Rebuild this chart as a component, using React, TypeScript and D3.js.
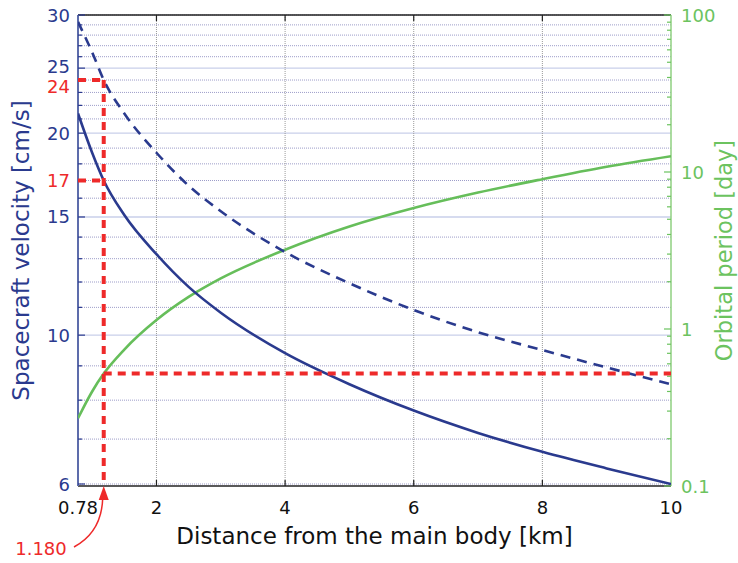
import React from "react";
import * as d3 from "d3";

// Distance from the main body [km]
const distanceKm = [0.78, 1.0, 1.18, 1.5, 2, 2.5, 3, 4, 5, 6, 7, 8, 9, 10];
// Circular orbit velocity [cm/s]
const orbitVelocity = [21.4, 18.7, 17, 15.1, 13.2, 11.8, 10.8, 9.4, 8.45, 7.72, 7.15, 6.7, 6.33, 6.0];
// Escape velocity [cm/s]
const escapeVelocity = [29.3, 26.4, 24, 21.4, 18.7, 16.7, 15.3, 13.3, 11.95, 10.9, 10.1, 9.5, 8.95, 8.45];
// Orbital period [day]
const orbitalPeriod = [0.27, 0.4, 0.52, 0.74, 1.14, 1.6, 2.1, 3.2, 4.5, 5.9, 7.4, 9.0, 10.8, 12.6];

const xTicks = [0.78, 2, 4, 6, 8, 10];
const xTickLabels = ["0.78", "2", "4", "6", "8", "10"];
const leftLabels = [6, 10, 15, 20, 25, 30];
const leftMajorGrid = [10, 15, 20, 25];
const rightLabels = [0.1, 1, 10, 100];
const rightLabelText = ["0.1", "1", "10", "100"];

// Marked operating point
const markDistance = 1.18;
const markDistanceLabel = "1.180";
const markEscape = 24;
const markOrbit = 17;
const markPeriod = 0.52;

const W = 738;
const H = 563;
const L = 78;
const R = 671;
const T = 15;
const B = 486;

const NAVY = "#2a3a8e";
const GREEN = "#66be5a";
const GREEN_TXT = "#6cc35f";
const RED = "#ee2a2a";
const FONT = "DejaVu Sans, Verdana, sans-serif";

export default function App() {
  const x = d3.scaleLinear().domain([0.78, 10]).range([L, R]);
  const yL = d3.scaleLog().domain([6, 30]).range([484, T]);
  const yR = d3.scaleLog().domain([0.1, 100]).range([B, T]);

  const leftMinor = d3.range(6, 31);
  const rightMinor: number[] = [];
  [0.1, 1, 10].forEach((d) => {
    for (let k = 2; k <= 9; k++) rightMinor.push(d * k);
  });

  const lineL = (vals: number[]) =>
    d3
      .line<number>()
      .x((_, i) => x(distanceKm[i]))
      .y((v) => yL(v))
      .curve(d3.curveMonotoneX)(vals) || "";
  const lineR = d3
    .line<number>()
    .x((_, i) => x(distanceKm[i]))
    .y((v) => yR(v))
    .curve(d3.curveMonotoneX)(orbitalPeriod) || "";

  const mx = x(markDistance);
  const redDash = "8,6";

  // small vertical nudges so neighbouring left labels stay apart
  const labelShift: Record<number, number> = { 25: -2, 24: 6 };

  return (
    <svg
      width={W}
      height={H}
      style={{ position: "absolute", left: 0, top: 0, background: "#fff" }}
      fontFamily={FONT}
    >
      <defs>
        <clipPath id="plot">
          <rect x={L} y={T} width={R - L} height={B - T} />
        </clipPath>
      </defs>

      {/* horizontal grid */}
      {leftMinor.map((v) =>
        leftMajorGrid.includes(v) ? (
          <line key={"g" + v} x1={L} x2={R} y1={yL(v)} y2={yL(v)} stroke="#c9cfea" strokeWidth={1.3} />
        ) : (
          <line
            key={"g" + v}
            x1={L}
            x2={R}
            y1={yL(v)}
            y2={yL(v)}
            stroke="#9d9dc9"
            strokeWidth={1}
            strokeDasharray="1,1"
          />
        )
      )}
      {/* vertical grid */}
      {xTicks.slice(1, -1).map((t) => (
        <line key={"vg" + t} x1={x(t)} x2={x(t)} y1={T} y2={B} stroke="#9a9a9a" strokeWidth={1} strokeDasharray="1,1" />
      ))}

      {/* frame */}
      <line x1={L} x2={R} y1={T} y2={T} stroke="#222" strokeWidth={1.5} />
      <line x1={L} x2={R} y1={B} y2={B} stroke="#222" strokeWidth={1.5} />
      <line x1={L} x2={L} y1={T} y2={B} stroke="#5d6cab" strokeWidth={2} />
      <line x1={R} x2={R} y1={T} y2={B} stroke="#8fd080" strokeWidth={1.5} />

      {/* x ticks */}
      {xTicks.slice(1, -1).map((t) => (
        <g key={"xt" + t}>
          <line x1={x(t)} x2={x(t)} y1={B} y2={B - 6} stroke="#222" strokeWidth={1.2} />
          <line x1={x(t)} x2={x(t)} y1={T} y2={T + 6} stroke="#222" strokeWidth={1.2} />
        </g>
      ))}
      {xTicks.map((t, i) => (
        <text key={"xl" + t} x={x(t)} y={507} fontSize={18} textAnchor="middle" dominantBaseline="central" fill="#111">
          {xTickLabels[i]}
        </text>
      ))}

      {/* left ticks */}
      {leftMinor.map((v) => (
        <line
          key={"lt" + v}
          x1={L}
          x2={L + (leftLabels.includes(v) ? 7 : 4)}
          y1={yL(v)}
          y2={yL(v)}
          stroke="#2a3a8e"
          strokeWidth={1.2}
        />
      ))}
      {leftLabels.map((v) => (
        <text
          key={"ll" + v}
          x={70}
          y={yL(v) + (labelShift[v] || 0)}
          fontSize={18}
          textAnchor="end"
          dominantBaseline="central"
          fill={NAVY}
        >
          {v}
        </text>
      ))}
      {[markEscape, markOrbit].map((v) => (
        <text
          key={"rl" + v}
          x={70}
          y={yL(v) + (labelShift[v] || 0)}
          fontSize={18}
          textAnchor="end"
          dominantBaseline="central"
          fill={RED}
        >
          {v}
        </text>
      ))}

      {/* right ticks */}
      {rightMinor.map((v) => (
        <line key={"rt" + v} x1={R} x2={R - 4} y1={yR(v)} y2={yR(v)} stroke="#6cc35f" strokeWidth={1.2} />
      ))}
      {rightLabels.map((v, i) => (
        <g key={"rl" + v}>
          <line x1={R} x2={R - 7} y1={yR(v)} y2={yR(v)} stroke="#6cc35f" strokeWidth={1.2} />
          <text x={681} y={yR(v)} fontSize={18} textAnchor="start" dominantBaseline="central" fill={GREEN_TXT}>
            {rightLabelText[i]}
          </text>
        </g>
      ))}

      {/* curves */}
      <g clipPath="url(#plot)">
        <path d={lineR} fill="none" stroke={GREEN} strokeWidth={2.6} />
        <path d={lineL(orbitVelocity)} fill="none" stroke={NAVY} strokeWidth={2.6} />
        <path d={lineL(escapeVelocity)} fill="none" stroke={NAVY} strokeWidth={2.6} strokeDasharray="10,7" />

        {/* marked point guides */}
        <line x1={L} x2={mx} y1={yL(markEscape)} y2={yL(markEscape)} stroke={RED} strokeWidth={4} strokeDasharray={redDash} />
        <line x1={L} x2={mx} y1={yL(markOrbit)} y2={yL(markOrbit)} stroke={RED} strokeWidth={4} strokeDasharray={redDash} />
        <line x1={mx} x2={mx} y1={yL(markEscape)} y2={B} stroke={RED} strokeWidth={4} strokeDasharray={redDash} />
        <line x1={mx} x2={R} y1={yR(markPeriod)} y2={yR(markPeriod)} stroke={RED} strokeWidth={4} strokeDasharray={redDash} />
      </g>

      {/* arrow to the marked distance */}
      <path
        d={`M ${L - 4},${547} Q ${mx - 2},${532} ${mx - 1},${B + 12}`}
        fill="none"
        stroke={RED}
        strokeWidth={1.5}
      />
      <path d={`M ${mx},${B} L ${mx - 5},${B + 14} L ${mx + 5},${B + 14} Z`} fill={RED} />
      <text x={41} y={548} fontSize={18} textAnchor="middle" dominantBaseline="central" fill={RED}>
        {markDistanceLabel}
      </text>

      {/* axis titles */}
      <text x={374.5} y={536} fontSize={23} textAnchor="middle" dominantBaseline="central" fill="#111">
        Distance from the main body [km]
      </text>
      <text
        transform={`translate(21,${(T + B) / 2}) rotate(-90)`}
        fontSize={23}
        textAnchor="middle"
        dominantBaseline="central"
        fill={NAVY}
      >
        Spacecraft velocity [cm/s]
      </text>
      <text
        transform={`translate(724,${(T + B) / 2}) rotate(-90)`}
        fontSize={22.5}
        textAnchor="middle"
        dominantBaseline="central"
        fill={GREEN_TXT}
      >
        Orbital period [day]
      </text>
    </svg>
  );
}
